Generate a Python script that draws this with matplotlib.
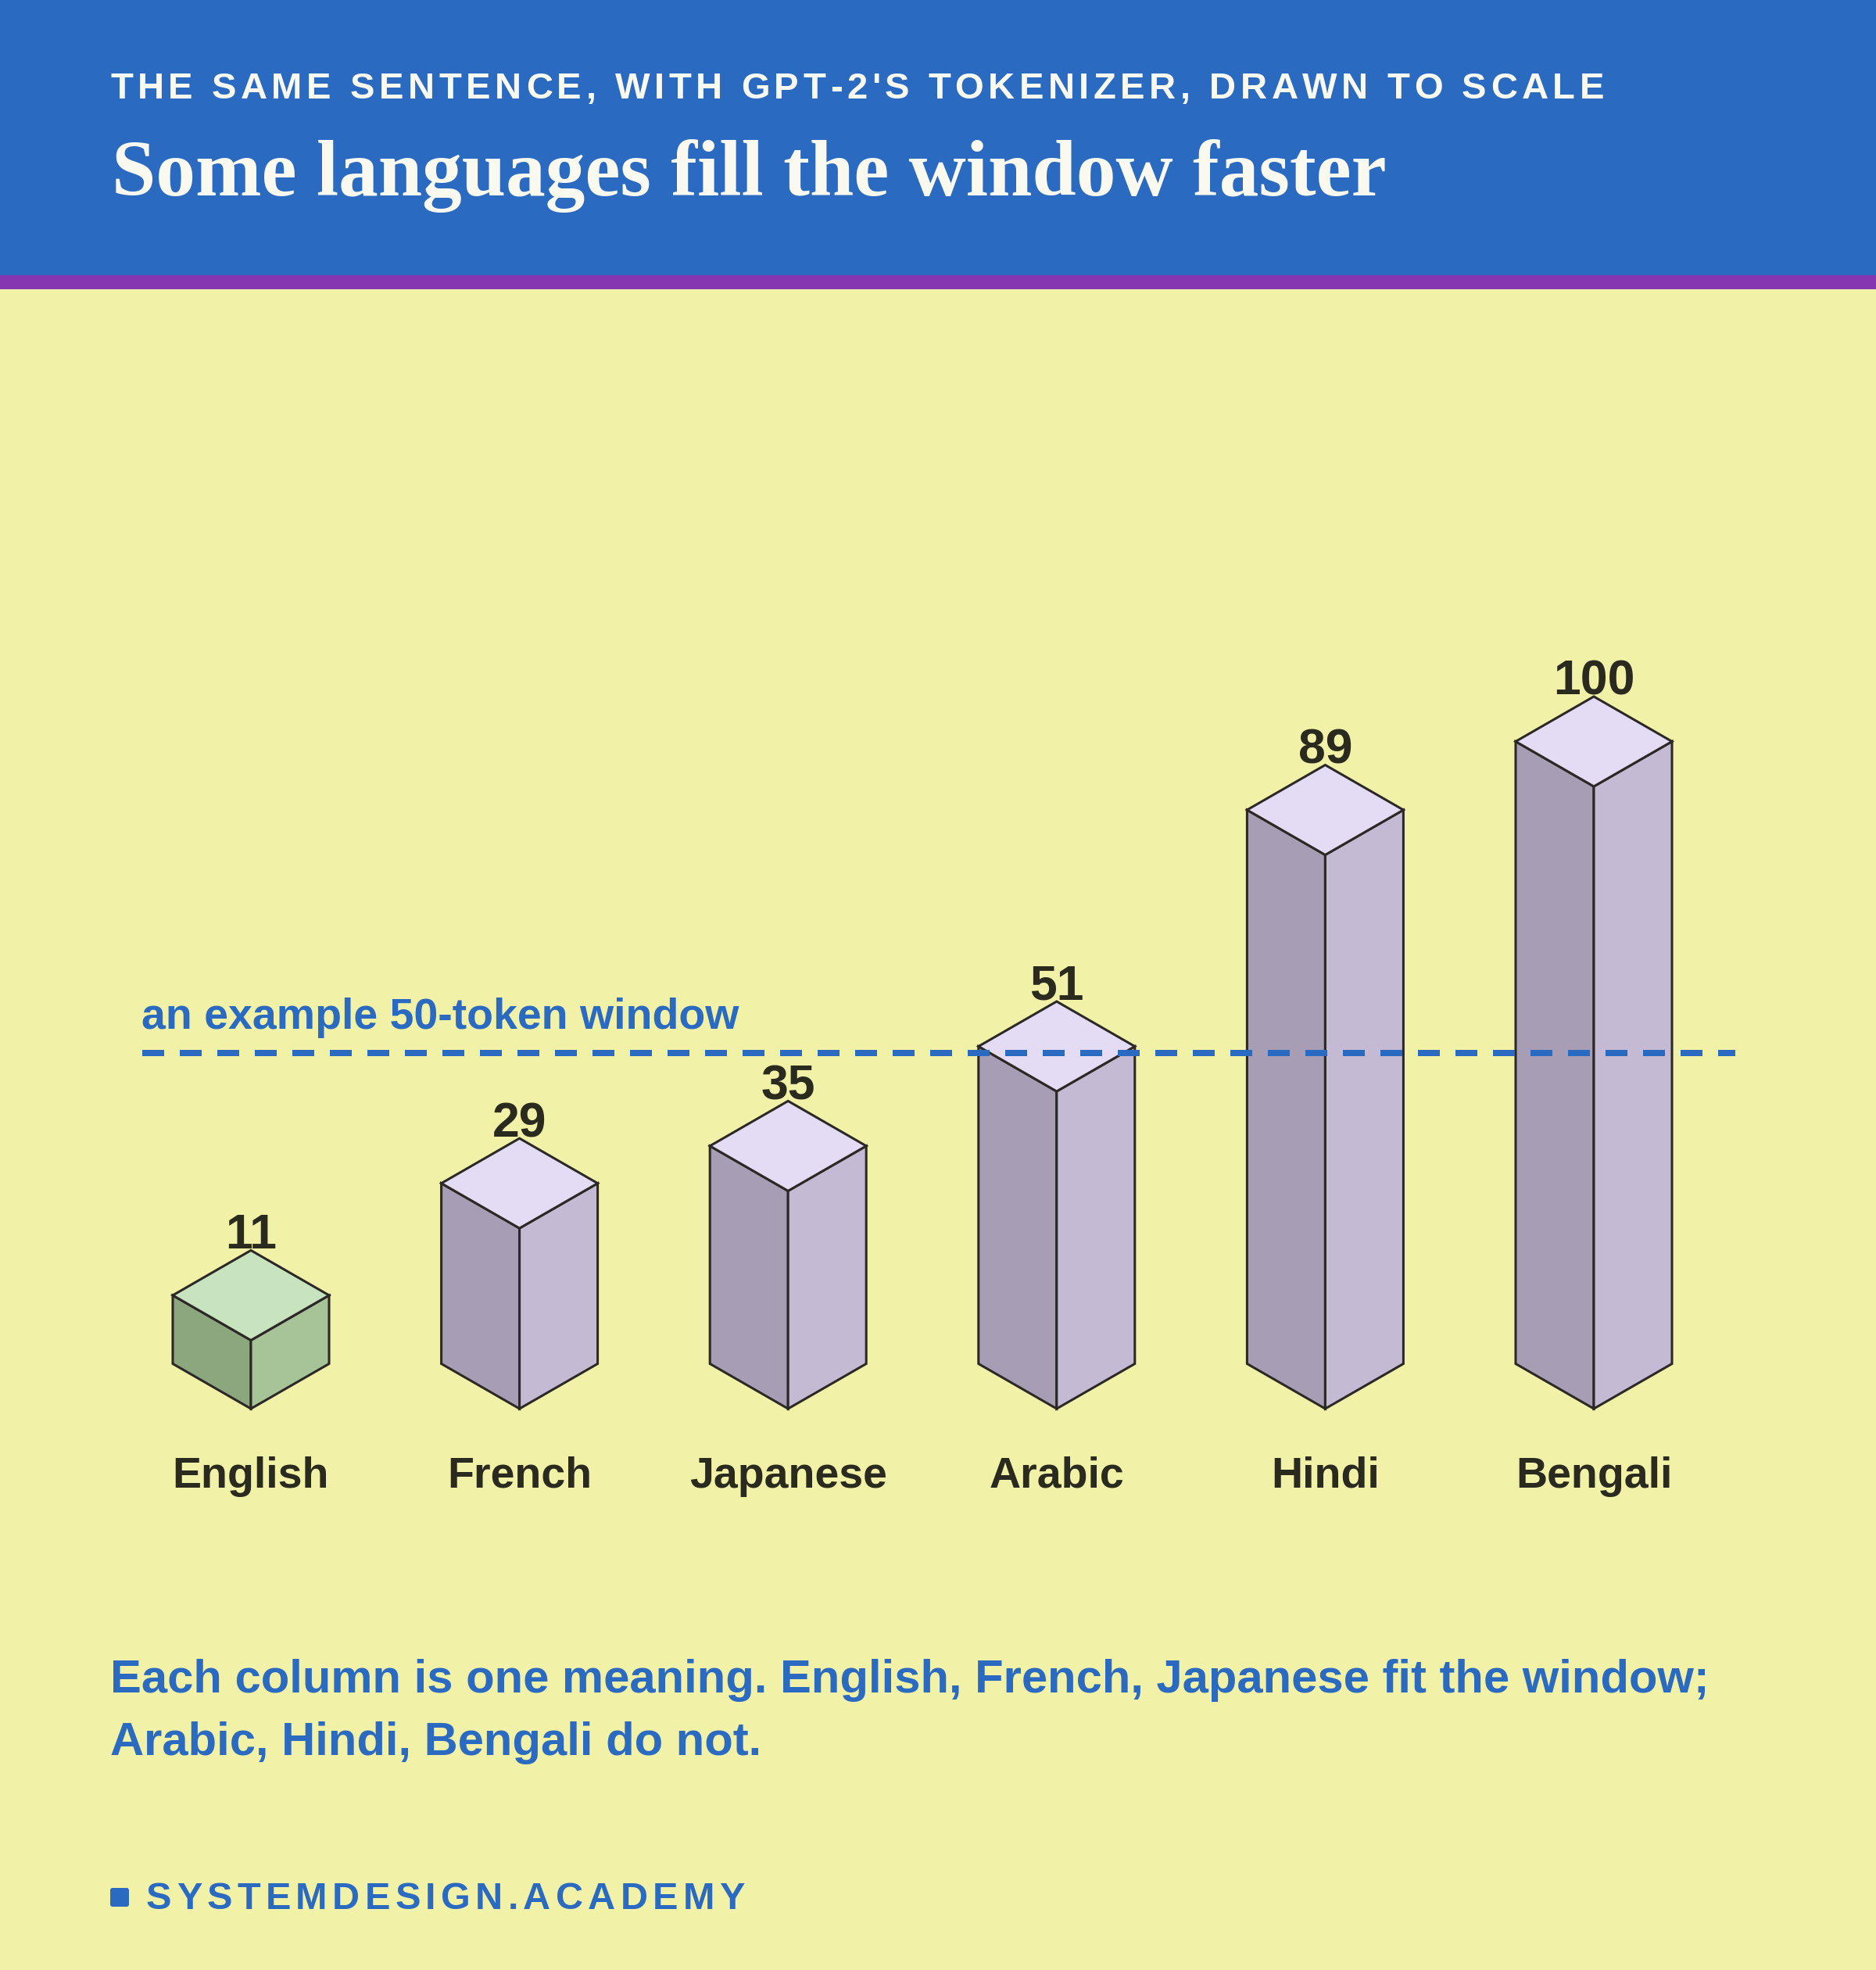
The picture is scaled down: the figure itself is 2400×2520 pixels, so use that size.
import matplotlib
matplotlib.use("Agg")
import matplotlib.pyplot as plt
from matplotlib.patches import Polygon, Rectangle, FancyBboxPatch
from matplotlib import font_manager, ft2font

# data
languages = ["English", "French", "Japanese", "Arabic", "Hindi", "Bengali"]
tokens = [11, 29, 35, 51, 89, 100]
window = 50
reference_lang = "English"

kicker = "THE SAME SENTENCE, WITH GPT-2'S TOKENIZER, DRAWN TO SCALE"
title = "Some languages fill the window faster"
window_label = "an example 50-token window"
note_lines = ["Each column is one meaning. English, French, Japanese fit the window;",
              "Arabic, Hindi, Bengali do not."]
brand = "SYSTEMDESIGN.ACADEMY"

# colours
BG = "#F2F1A8"
BLUE = "#2B6AC1"
PURPLE = "#8536B0"
WHITE = "#FAF9F0"
INK = "#2A2A1E"
EDGE = "#2B2826"
ref_faces = ("#8CA67E", "#A6C497", "#C8E4BE")      # left, right, top
other_faces = ("#A79EB5", "#C4BAD3", "#E4DCF4")

W, H = 2400, 2520
fig = plt.figure(figsize=(W / 100, H / 100), dpi=100, facecolor=BG)

SANS = "Liberation Sans"


def fx(px):
    return px / W


def fy(py):
    return 1 - py / H


def spaced_text(x0, x1, y, s, size, color):
    # letter-spaced text stretched between x0 and x1 (pixels)
    prop = font_manager.FontProperties(family=SANS, weight="bold", size=size)
    f = ft2font.FT2Font(font_manager.findfont(prop))
    f.set_size(size, 100)
    adv = [f.load_char(ord(c)).linearHoriAdvance / 65536 for c in s]
    track = ((x1 - x0) - sum(adv)) / (len(s) - 1)
    x = x0
    for c, a in zip(s, adv):
        fig.text(fx(x), fy(y), c, fontproperties=prop, color=color,
                 ha="left", va="baseline")
        x += a + track


# header band
fig.patches.append(Rectangle((0, fy(352)), 1, 352 / H, transform=fig.transFigure,
                             facecolor=BLUE, edgecolor="none", zorder=0))
fig.patches.append(Rectangle((0, fy(370)), 1, 18 / H, transform=fig.transFigure,
                             facecolor=PURPLE, edgecolor="none", zorder=0))
spaced_text(141, 2052, 126, kicker, 34, WHITE)
fig.text(fx(143), fy(250), title, family="Liberation Serif", weight="bold",
         size=73, color=WHITE, ha="left", va="baseline")

# chart axes, mapped so one category = 343.6 px and one token = 7.96 px
x0_px, step_px = 321, 343.6
base_px, unit_px = 1802, 7.96
ax = fig.add_axes([0, 0, 1, 1])
ax.set_xlim(-x0_px / step_px, (W - x0_px) / step_px)
ax.set_ylim(-(H - base_px) / unit_px, base_px / unit_px)
ax.axis("off")
ax.patch.set_alpha(0)

hw = 100 / step_px        # half width of the prism
rise = 57.5 / unit_px     # isometric rise of the top face

for i, (lang, v) in enumerate(zip(languages, tokens)):
    left_c, right_c, top_c = ref_faces if lang == reference_lang else other_faces
    left = [(i - hw, rise), (i, 0), (i, v), (i - hw, v + rise)]
    right = [(i, 0), (i + hw, rise), (i + hw, v + rise), (i, v)]
    top = [(i, v), (i - hw, v + rise), (i, v + 2 * rise), (i + hw, v + rise)]
    for pts, c in ((left, left_c), (right, right_c), (top, top_c)):
        ax.add_patch(Polygon(pts, closed=True, facecolor=c, edgecolor=EDGE,
                             linewidth=2.2, joinstyle="miter", zorder=2))
    ax.annotate(str(v), xy=(i, v + 2 * rise), xytext=(0, 1.5), textcoords="offset points",
                ha="center", va="baseline", family=SANS, weight="bold", size=45,
                color=INK, zorder=4)
    ax.annotate(lang, xy=(i, 0), xytext=(0, -72.7), textcoords="offset points",
                ha="center", va="baseline", family=SANS, weight="bold", size=40,
                color=INK, zorder=4)

# window line at the top-face centre of a 50-token column
line_y = window + rise
line_x0 = -0.405
line_x1 = len(languages) - 1 + 0.527
ax.plot([line_x0, line_x1], [line_y, line_y], color=BLUE, linewidth=5.76,
        linestyle=(0, (3.5, 2.5)), solid_capstyle="butt", dash_capstyle="butt", zorder=3)
ax.annotate(window_label, xy=(line_x0, line_y), xytext=(-0.5, 21.6),
            textcoords="offset points", ha="left", va="baseline", family=SANS,
            weight="bold", size=40, color=BLUE, zorder=4)

# note
for k, line in enumerate(note_lines):
    fig.text(fx(141), fy(2165 + 80 * k), line, family=SANS, weight="bold", size=43,
             color=BLUE, ha="left", va="baseline")

# brand
fig.patches.append(FancyBboxPatch((fx(141), fy(2439)), 24 / W, 24 / H,
                                  boxstyle="round,pad=0,rounding_size=0.0012",
                                  transform=fig.transFigure, facecolor=BLUE,
                                  edgecolor="none"))
spaced_text(187, 953, 2442, brand, 35, BLUE)

fig.savefig("out.png", dpi=100, facecolor=BG)
